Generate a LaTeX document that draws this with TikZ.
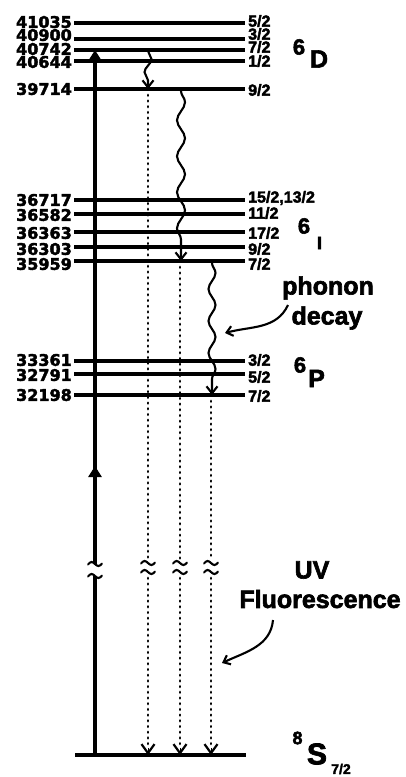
\documentclass[tikz,border=0pt]{standalone}
\usepackage{fontspec}
\setmainfont{Liberation Sans}[BoldFeatures={FakeBold=2.5}]
\newfontfamily\numfont{DejaVu Sans}[BoldFeatures={FakeBold=2.5}]
\usetikzlibrary{arrows.meta,decorations.pathmorphing}
\begin{document}
\begin{tikzpicture}[x=1pt,y=1pt,
  level/.style={line width=3.2pt},
  lnum/.style={anchor=east,inner sep=0pt,font=\numfont\bfseries\fontsize{16}{16}\selectfont},
  rnum/.style={anchor=west,inner sep=0pt,font=\bfseries\fontsize{16}{16}\selectfont},
  bigtxt/.style={inner sep=0pt,font=\bfseries\fontsize{25}{25}\selectfont},
  termnum/.style={inner sep=0pt,font=\bfseries\fontsize{22}{22}\selectfont},
  termlet/.style={inner sep=0pt,font=\bfseries\fontsize{25}{25}\selectfont},
  excite/.style={line width=4.5pt},
  wavy/.style={line width=2.1pt,decorate,decoration={snake,segment length=32pt,amplitude=3.5pt,post length=7pt},
    -{Straight Barb[length=7pt,width=11pt,line width=2.1pt]}},
  dotline/.style={line width=2.8pt,line cap=round,dash pattern=on 0.6pt off 5.1pt},
  vtip/.style={-{Straight Barb[length=9pt,width=13pt,line width=2.2pt]}},
  curvarrow/.style={line width=2.1pt,-{Straight Barb[length=6pt,width=10pt,line width=2.1pt]}},
  brk/.pic={\draw[line width=2.1pt,line cap=round] (-7,-0.5) sin (-3.5,2) cos (0,0) sin (3.5,-2) cos (7,0.5);}
]
\useasboundingbox (0,0) rectangle (405,-777);

\newcommand{\enlevel}[5]{%
  \coordinate (a#3) at (74,-#1);
  \coordinate (b#3) at (245,-#1);
  \draw[level] (a#3) -- (b#3);
  \node[lnum] (n#3) at (72,-#2) {#3};
  \node[rnum] (j#3) at (248,-#4) {#5};
}

\enlevel{23}{22}{41035}{21}{5/2}
\enlevel{39}{35}{40900}{34}{3/2}
\enlevel{50}{49}{40742}{47}{7/2}
\enlevel{61}{62}{40644}{61}{1/2}
\enlevel{89}{89}{39714}{90}{9/2}
\enlevel{200}{200}{36717}{198}{15/2,13/2}
\enlevel{214}{215}{36582}{213}{11/2}
\enlevel{232}{233}{36363}{233}{17/2}
\enlevel{247}{249}{36303}{249}{9/2}
\enlevel{261}{264}{35959}{264}{7/2}
\enlevel{361}{360}{33361}{360}{3/2}
\enlevel{374}{375}{32791}{377}{5/2}
\enlevel{395}{395}{32198}{396}{7/2}

% ground level
\coordinate (g0) at (75,-755);
\coordinate (g1) at (246,-755);
\draw[line width=3.2pt] (g0) -- (g1);

% term symbols
\node[termnum] (t6D) at (299,-47) {6};
\node[termlet] (tD) at (319,-59) {D};
\node[termnum] (t6I) at (304,-226) {6};
\node[inner sep=0pt,font=\bfseries\fontsize{18}{18}\selectfont] (tI) at (319.5,-243) {I};
\node[termnum] (t6P) at (300,-365) {6};
\node[termlet] (tP) at (316.5,-378.5) {P};
\node[inner sep=0pt,font=\bfseries\fontsize{18}{18}\selectfont] (t8S) at (297.5,-738) {8};
\node[inner sep=0pt,font=\bfseries\fontsize{30}{30}\selectfont] (tS) at (317,-754) {S};
\node[inner sep=0pt,font=\bfseries\fontsize{14}{14}\selectfont] (tJ) at (341,-769) {7/2};

% texts
\node[bigtxt] (phonon) at (328,-288) {phonon};
\node[bigtxt] (decay) at (327,-318) {decay};
\node[bigtxt] (uv) at (312,-570) {UV};
\node[bigtxt] (fluor) at (320,-599) {Fluorescence};

% excitation arrow
\coordinate (e0) at (95,-755);
\coordinate (e1) at (95,-576);
\coordinate (e2) at (95,-564);
\coordinate (e3) at (95,-50);
\coordinate (em0) at (95,-495);
\coordinate (em1) at (95,-466);
\draw[excite] (e0) -- (e1);
\draw[excite,-{Triangle[length=11pt,width=13pt]}] (e2) -- (e3);
\draw[excite,-{Triangle[length=11pt,width=13pt]}] (em0) -- (em1);
\pic at (95,-564) {brk};
\pic at (95,-576) {brk};

% wavy (phonon) transitions
\coordinate (w1s) at (148,-51);
\coordinate (w1e) at (148,-89);
\coordinate (w2s) at (181,-91);
\coordinate (w2e) at (181,-261);
\coordinate (w3s) at (212,-263);
\coordinate (w3e) at (212,-395);
\draw[wavy,decoration={segment length=26pt,amplitude=3.5pt}] (w1s) -- (w1e);
\draw[wavy,decoration={segment length=36pt,amplitude=4pt}] (w2s) -- (w2e);
\draw[wavy,decoration={segment length=32pt,amplitude=3.5pt}] (w3s) -- (w3e);

% dotted fluorescence lines
\foreach \i/\x/\ytop in {1/148/95, 2/180/267, 3/211/401}{
  \coordinate (d\i a) at (\x,-\ytop);
  \coordinate (d\i b) at (\x,-560);
  \coordinate (d\i c) at (\x,-578);
  \coordinate (d\i d) at (\x,-755);
  \draw[dotline] (d\i a) -- (d\i b);
  \draw[dotline] (d\i c) -- (\x,-748);
  \draw[vtip] (\x,-748) -- (d\i d);
  \pic at (\x,-563) {brk};
  \pic at (\x,-572) {brk};
}

% annotation arrows
\coordinate (pd1) at (288,-305);
\coordinate (pd2) at (225,-333);
\draw[curvarrow] (pd1) to[out=245,in=15] (pd2);
\coordinate (uv1) at (273,-620);
\coordinate (uv2) at (222,-663);
\draw[curvarrow] (uv1) to[out=265,in=25] (uv2);
\end{tikzpicture}
\end{document}
